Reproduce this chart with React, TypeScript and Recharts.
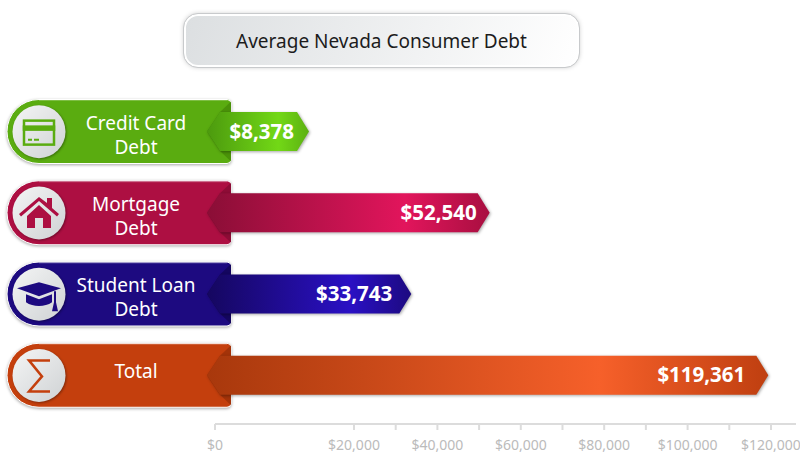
import { BarChart, Bar, XAxis, YAxis, LabelList } from "recharts"

const categories = ["Credit Card Debt", "Mortgage Debt", "Student Loan Debt", "Total"]
const values = [8378, 52540, 33743, 119361]
const tickValues = [0, 20000, 30000, 40000, 50000, 60000, 70000, 80000, 90000, 100000, 110000, 120000]
const labeledTicks = [0, 20000, 40000, 60000, 80000, 100000, 120000]
const labelLines = [["Credit Card", "Debt"], ["Mortgage", "Debt"], ["Student Loan", "Debt"], ["Total"]]
const tabColors = ["#5aac10", "#ad0f42", "#1d0a80", "#c43f0d"]
const tabEdges = ["#4a9209", "#8e0c36", "#14065f", "#a33309"]
const barStops = [
  ["#4c9a0e", "#72d816", "#5cb012"],
  ["#8a0e36", "#e2155c", "#a80f40"],
  ["#15075f", "#2a10c4", "#1d0a80"],
  ["#a8380c", "#f6602a", "#bf3f10"],
]
const labelInset = [15, 13, 19, 23]

const data = categories.map((name, i) => ({ name, value: values[i] }))
const font = "'Noto Sans', sans-serif"

// the source axis is not linear: short bars are stretched, 20k and up is even
const scaleKnots: [number, number][] = [[0, 0], [8378, 94], [20000, 139], [126000, 581]]

function brokenScale() {
  let dom = [0, 126000]
  let rng = [215, 796]
  const s: any = (v: number) => {
    for (let i = 1; i < scaleKnots.length; i++) {
      const [v0, p0] = scaleKnots[i - 1]
      const [v1, p1] = scaleKnots[i]
      if (v <= v1 || i === scaleKnots.length - 1) {
        return rng[0] + ((p0 + ((v - v0) / (v1 - v0)) * (p1 - p0)) / 581) * (rng[1] - rng[0])
      }
    }
    return rng[0]
  }
  s.domain = (d?: number[]) => (d ? ((dom = d), s) : dom)
  s.range = (r?: number[]) => (r ? ((rng = r), s) : rng)
  s.ticks = () => tickValues
  s.tickFormat = () => String
  s.bandwidth = () => 0
  s.copy = () => brokenScale()
  return s
}

const formatMoney = (v: number) => "$" + v.toLocaleString("en-US")

function Icon({ index, cx, cy, color }: any) {
  if (index === 0) {
    return (
      <g transform={`translate(${cx},${cy + 1})`} fill="none" stroke={color} strokeWidth={2.5}>
        <rect x={-15} y={-12} width={30} height={24} />
        <rect x={-15} y={-6} width={30} height={3} fill={color} />
        <path d="M-11 7h4M-5 7h5" strokeWidth={2} />
      </g>
    )
  }
  if (index === 1) {
    return (
      <g transform={`translate(${cx},${cy})`} fill={color}>
        <path d="M-20 1 L0 -16 L8 -10 V-15 H13 V-5 L20 1 L18 3.5 L0 -12 L-18 3.5 Z" />
        <path d="M-12 3 L0 -8 L12 3 V15 H4 V5 H-4 V15 H-12 Z" />
      </g>
    )
  }
  if (index === 2) {
    return (
      <g transform={`translate(${cx},${cy})`} fill={color}>
        <path d="M-22 -6 L0 -12 L22 -6 L0 2 Z" />
        <path d="M-13 0 L0 5 L13 0 V8 C6 13 -6 13 -13 8 Z" />
        <path d="M15 -3 H17 V8 L19 17 H13 L15 8 Z" />
      </g>
    )
  }
  return (
    <path
      transform={`translate(${cx},${cy})`}
      d="M11 -15 H-10 L3 1 L-10 16 H11"
      fill="none"
      stroke={color}
      strokeWidth={2.5}
    />
  )
}

// axis ticks sit above the bars, so the tab itself is drawn by the bar shape
function CategoryLabel({ y, payload, index }: any) {
  const lines = labelLines[index]
  const firstLine = lines.length === 1 ? y + 3 : y - 2
  return (
    <g>
      <circle cx={39} cy={y} r={26.5} fill="url(#disc)" style={{ filter: "drop-shadow(1px 1px 1px rgba(0,0,0,0.35))" }} />
      <Icon index={index} cx={39} cy={y} color={tabColors[index]} />
      <text x={136} textAnchor="middle" fill="#fff" fontFamily={font} fontSize={19}>
        {lines.map((line: string, i: number) => (
          <tspan key={i} x={136} y={firstLine + i * 24}>
            {line}
          </tspan>
        ))}
        <title>{payload.value}</title>
      </text>
    </g>
  )
}

function Ribbon({ x, y, width, height, index }: any) {
  const right = x + width
  const mid = y + height / 2
  const left = x - 8
  return (
    <g>
      <path
        d={`M7 ${mid} a32 32 0 0 1 32 -32 H227 a4 4 0 0 1 4 4 V${mid + 28} a4 4 0 0 1 -4 4 H39 a32 32 0 0 1 -32 -32 Z`}
        fill={tabColors[index]}
        stroke="#ffffff"
        strokeWidth={1}
        style={{ filter: "drop-shadow(0 1px 1.5px rgba(0,0,0,0.35))" }}
      />
      <rect x={39} y={mid - 32} width={188} height={1.5} fill="#ffffff" opacity={0.22} />
      <path d={`M231 ${mid - 30} L${left + 13} ${y} L${left} ${mid} L${left + 13} ${y + height} L231 ${mid + 30} Z`} fill={tabEdges[index]} />
      <path
        d={`M${left} ${mid} L${left + 13} ${y} H${right - 12} L${right} ${mid} L${right - 12} ${y + height} H${left + 13} Z`}
        fill={`url(#ribbon${index})`}
        style={{ filter: "drop-shadow(1px 1px 1.5px rgba(0,0,0,0.35))" }}
      />
    </g>
  )
}

function ValueLabel({ x, y, width, height, value, index }: any) {
  return (
    <text
      x={x + width - labelInset[index]}
      y={y + height / 2 + 7}
      textAnchor="end"
      fill="#fff"
      fontFamily={font}
      fontWeight={700}
      fontSize={20.5}
    >
      {formatMoney(value)}
    </text>
  )
}

export default function App() {
  return (
    <div style={{ position: "absolute", left: 0, top: 0, width: 800, height: 456, background: "#fff" }}>
      <div
        style={{
          position: "absolute",
          left: 184,
          top: 14,
          width: 395,
          height: 53,
          boxSizing: "border-box",
          border: "2px solid #fff",
          outline: "1px solid #c8cacc",
          borderRadius: 14,
          background: "linear-gradient(110deg, #dcdfe1, #ffffff)",
          boxShadow: "0 0 5px rgba(0,0,0,0.25)",
          fontFamily: font,
          fontSize: 19,
          color: "#1c1c1c",
          textAlign: "center",
          lineHeight: "50px",
        }}
      >
        Average Nevada Consumer Debt
      </div>
      <BarChart
        width={800}
        height={456}
        data={data}
        layout="vertical"
        margin={{ top: 91, right: 4, bottom: 0, left: 0 }}
        barSize={39}
      >
        <defs>
          <linearGradient id="disc" x1="0" y1="0" x2="1" y2="1">
            <stop offset="0%" stopColor="#f4f5f5" />
            <stop offset="100%" stopColor="#cfd2d4" />
          </linearGradient>
          {barStops.map((stops, i) => (
            <linearGradient key={i} id={`ribbon${i}`} x1="0" y1="0" x2="1" y2="0">
              <stop offset="0%" stopColor={stops[0]} />
              <stop offset="70%" stopColor={stops[1]} />
              <stop offset="100%" stopColor={stops[2]} />
            </linearGradient>
          ))}
        </defs>
        <XAxis
          type="number"
          domain={[0, 126000]}
          scale={brokenScale() as any}
          ticks={tickValues}
          interval={0}
          height={32}
          tickSize={6}
          tickMargin={10}
          stroke="#dcdcdc"
          strokeWidth={2}
          tick={{ fill: "#bbbbbb", fontFamily: font, fontSize: 14 }}
          tickFormatter={(v: number) => (labeledTicks.includes(v) ? formatMoney(v) : "")}
        />
        <YAxis
          type="category"
          dataKey="name"
          width={215}
          axisLine={false}
          tickLine={false}
          padding={{ top: 0, bottom: 8 }}
          interval={0}
          tick={<CategoryLabel />}
        />
        <Bar dataKey="value" isAnimationActive={false} shape={<Ribbon />}>
          <LabelList dataKey="value" content={<ValueLabel />} />
        </Bar>
      </BarChart>
    </div>
  )
}
